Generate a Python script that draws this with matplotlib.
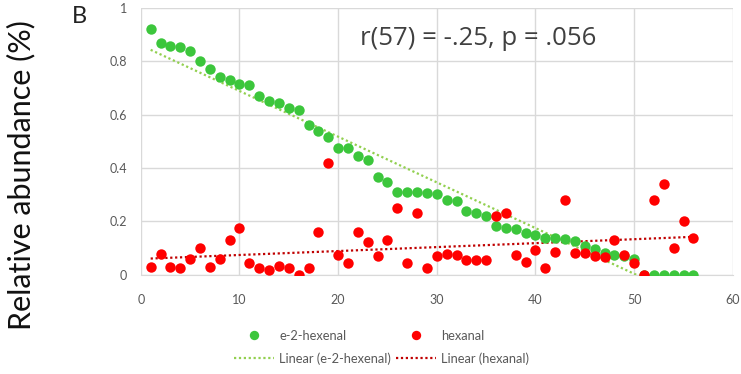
import numpy as np
import matplotlib
matplotlib.use("Agg")
import matplotlib.pyplot as plt

plt.rcParams['font.family'] = ['Lato', 'DejaVu Sans']

# sample index 1..56
sample = np.arange(1, 57)

e2_hexenal = [0.92, 0.87, 0.857, 0.853, 0.84, 0.80, 0.77, 0.74, 0.73, 0.715,
              0.71, 0.67, 0.65, 0.645, 0.625, 0.617, 0.56, 0.54, 0.515, 0.474,
              0.474, 0.447, 0.43, 0.365, 0.346, 0.312, 0.312, 0.312, 0.308, 0.304,
              0.28, 0.275, 0.24, 0.23, 0.222, 0.184, 0.177, 0.173, 0.155, 0.15,
              0.14, 0.14, 0.135, 0.128, 0.11, 0.098, 0.083, 0.075, 0.07, 0.06,
              0.0, 0.0, 0.0, 0.0, 0.0, 0.0]

hexanal = [0.03, 0.078, 0.03, 0.026, 0.06, 0.10, 0.03, 0.06, 0.13, 0.175,
           0.045, 0.024, 0.018, 0.035, 0.026, 0.0, 0.026, 0.16, 0.42, 0.075,
           0.045, 0.16, 0.124, 0.071, 0.13, 0.25, 0.045, 0.233, 0.026, 0.071,
           0.08, 0.075, 0.056, 0.056, 0.056, 0.22, 0.233, 0.075, 0.05, 0.094,
           0.026, 0.087, 0.28, 0.082, 0.082, 0.071, 0.068, 0.13, 0.075, 0.045,
           0.0, 0.28, 0.34, 0.10, 0.20, 0.14]

stat_text = "r(57) = -.25, p = .056"

green = "#3cc63c"
red = "#ff0000"
green_trend = "#92d050"
red_trend = "#c00000"
tick_grey = "#595959"

fig = plt.figure(figsize=(7.41, 3.74), dpi=100)
ax = fig.add_axes([0.190, 0.265, 0.799, 0.714])

g_pts, = ax.plot(sample, e2_hexenal, 'o', color=green, ms=7.5, mec='none',
                 label="e-2-hexenal", zorder=3)
r_pts, = ax.plot(sample, hexanal, 'o', color=red, ms=7.5, mec='none',
                 label="hexanal", zorder=4)

# least-squares trend lines over the plotted samples
xs = np.array(sample, dtype=float)
gfit = np.polyfit(xs, e2_hexenal, 1)
rfit = np.polyfit(xs, hexanal, 1)
g_line, = ax.plot(xs, np.polyval(gfit, xs), ls=(0, (1, 1.2)), lw=1.6,
                  color=green_trend, label="Linear (e-2-hexenal)", zorder=2)
r_line, = ax.plot(xs, np.polyval(rfit, xs), ls=(0, (1, 1.2)), lw=1.6,
                  color=red_trend, label="Linear (hexanal)", zorder=2)

ax.set_xlim(0, 60)
ax.set_ylim(0, 1)
ax.set_xticks(np.arange(0, 61, 10))
ax.set_yticks([0, 0.2, 0.4, 0.6, 0.8, 1])
ax.set_yticklabels(["0", "0.2", "0.4", "0.6", "0.8", "1"])
ax.grid(True, color="#d9d9d9", lw=1)
ax.set_axisbelow(True)
for s in ['top', 'right', 'left']:
    ax.spines[s].set_visible(False)
ax.spines['bottom'].set_color("#d9d9d9")
ax.tick_params(length=0, colors=tick_grey, labelsize=9)
ax.tick_params(axis='x', pad=14)
ax.tick_params(axis='y', pad=10)

ax.text(0.37, 0.885, stat_text, transform=ax.transAxes, fontsize=18.5,
        family=['Open Sans', 'DejaVu Sans'], color="#404040",
        ha='left', va='center')

fig.text(0.097, 0.957, "B", fontsize=17, color="#222222", ha='left', va='center')
fig.text(0.029, 0.532, "Relative abundance (%)", fontsize=22, rotation=90,
         color="#111111", ha='center', va='center')

fig.legend(handles=[g_pts, g_line, r_pts, r_line], ncol=2, frameon=False,
           loc='center', bbox_to_anchor=(0.515, 0.071), fontsize=9.3,
           labelcolor="#595959", handlelength=3.1, handletextpad=0.4,
           columnspacing=0.4, labelspacing=0.8, markerscale=0.9,
           alignment='left')

fig.savefig("out.png", dpi=100)
